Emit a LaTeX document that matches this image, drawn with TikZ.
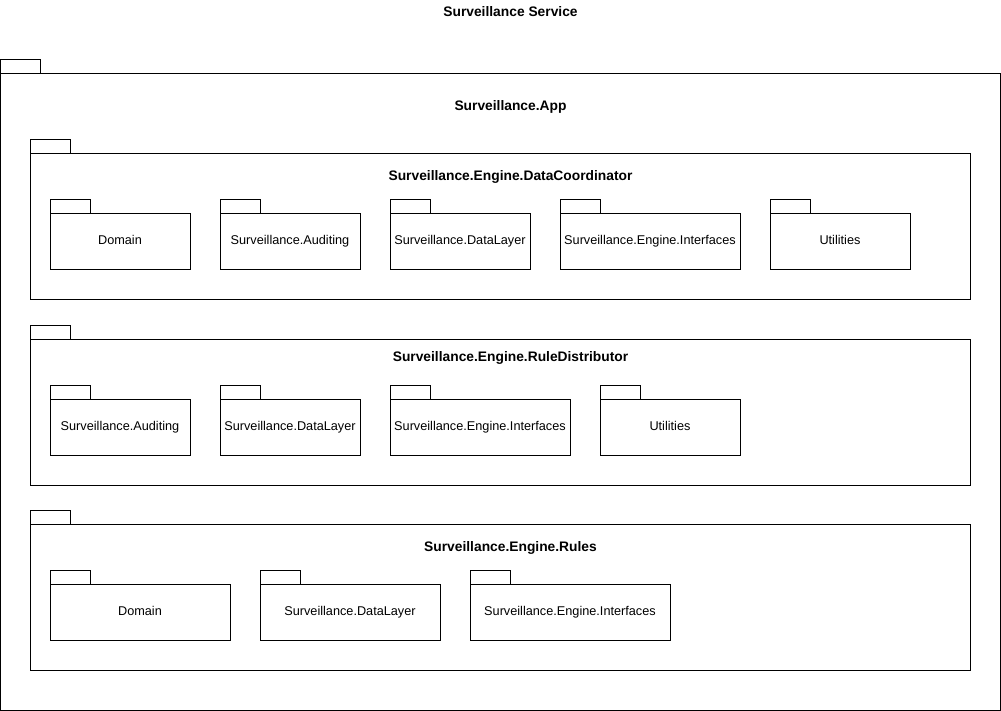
\documentclass[tikz,border=0pt]{standalone}
\usepackage{fontspec}
\setmainfont{Liberation Sans}
\usetikzlibrary{positioning}

\tikzset{
  pkgline/.style={draw, line width=1pt},
  pkgtitle/.style={font=\fontsize{13.8}{16}\selectfont\bfseries, inner sep=0pt, anchor=base},
  pkglabel/.style={font=\fontsize{12.7}{15}\selectfont, inner sep=0pt, anchor=base}
}

% package: tab + body, #1 = left, #2 = top of body, #3 = right, #4 = bottom
\newcommand{\umlpackage}[4]{%
  \draw[pkgline] (#1,#2-14) rectangle (#1+40,#2);
  \draw[pkgline] (#1,#2) rectangle (#3,#4);
}

\begin{document}
\begin{tikzpicture}[x=1pt,y=-1pt]
    \useasboundingbox (0,0) rectangle (1001,711);

    \node[pkgtitle] (service) at (510.5,16.5) {Surveillance Service};

    % outer package
    \umlpackage{0}{74}{1000}{710}
    \node[pkgtitle] (app) at (510.5,111) {Surveillance.App};

    % DataCoordinator
    \umlpackage{30}{154}{970}{300}
    \node[pkgtitle] (coord) at (510.5,181) {Surveillance.Engine.DataCoordinator};
    \foreach \xa/\xb/\txt [count=\i] in {50/190/Domain, 220/360/Surveillance.Auditing,
        390/530/Surveillance.DataLayer, 560/740/Surveillance.Engine.Interfaces, 770/910/Utilities}
    {
        \umlpackage{\xa}{214}{\xb}{270}
        \node[pkglabel] (coord\i) at ({(\xa+\xb)/2},245) {\txt};
    }

    % RuleDistributor
    \umlpackage{30}{339}{970}{485}
    \node[pkgtitle] (distr) at (510.5,361) {Surveillance.Engine.RuleDistributor};
    \foreach \xa/\xb/\txt [count=\i] in {50/190/Surveillance.Auditing, 220/360/Surveillance.DataLayer,
        390/570/Surveillance.Engine.Interfaces, 600/740/Utilities}
    {
        \umlpackage{\xa}{399}{\xb}{455}
        \node[pkglabel] (distr\i) at ({(\xa+\xb)/2},430) {\txt};
    }

    % Rules
    \umlpackage{30}{524}{970}{670}
    \node[pkgtitle] (rules) at (510.5,551) {Surveillance.Engine.Rules};
    \foreach \xa/\xb/\txt [count=\i] in {50/230/Domain, 260/440/Surveillance.DataLayer,
        470/670/Surveillance.Engine.Interfaces}
    {
        \umlpackage{\xa}{584}{\xb}{640}
        \node[pkglabel] (rules\i) at ({(\xa+\xb)/2},615) {\txt};
    }

\end{tikzpicture}
\end{document}
